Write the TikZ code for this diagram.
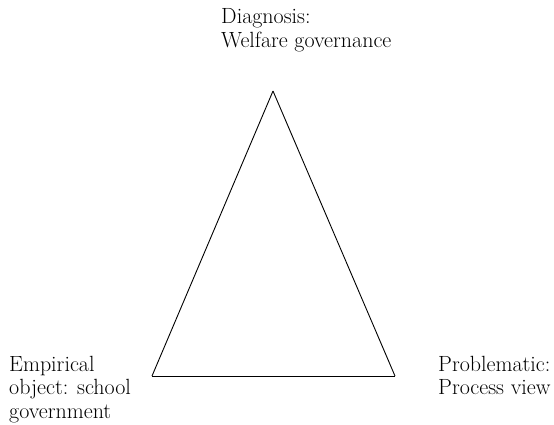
\documentclass[tikz,border=0pt]{standalone}
\usepackage{tikz}
\usetikzlibrary{positioning}

\begin{document}
\begin{tikzpicture}[x=1pt,y=-1pt]
        \useasboundingbox (0,0) rectangle (554,425);
        \coordinate (t) at (273,91);
        \coordinate (l) at (152,376);
        \coordinate (r) at (395,376);
        \begin{scope}[every node/.style={align=left,inner sep=0pt,anchor=base west,font=\fontsize{22}{23.5}\selectfont}]
        \node (diag) at (221,47.5) {Diagnosis:\\Welfare governance};
        \node (emp) at (9,418) {Empirical\\object: school\\government};
        \node (prob) at (438,394.5) {Problematic:\\Process view};
        \end{scope}
        \begin{scope}[every path/.style={draw=black,line width=0.9pt}]
        \path (t) -- (r);
        \path (r) -- (l);
        \path (l) -- (t);
        \end{scope}
        \end{tikzpicture}
\end{document}
